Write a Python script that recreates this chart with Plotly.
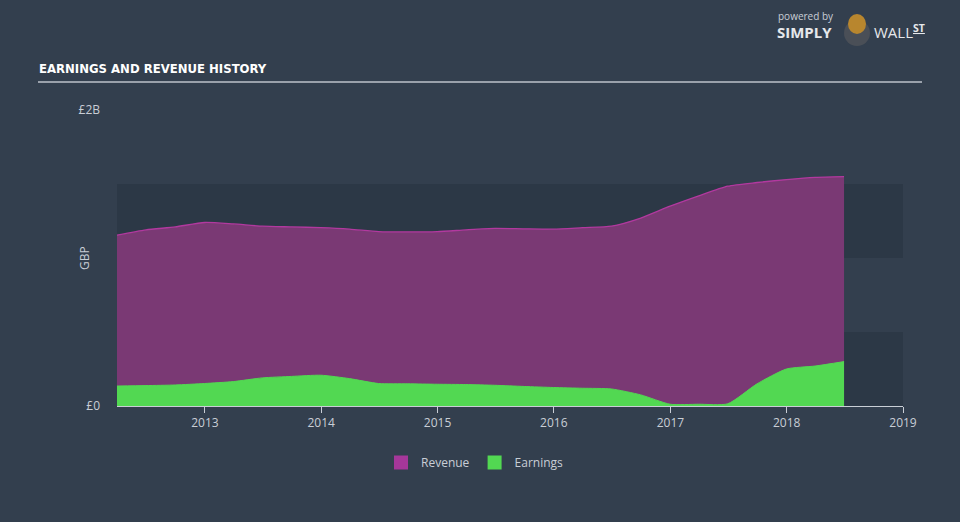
import plotly.graph_objects as go

dates = ["2012-03-31", "2012-06-30", "2012-09-30", "2012-12-31",
         "2013-03-31", "2013-06-30", "2013-09-30", "2013-12-31",
         "2014-03-31", "2014-06-30", "2014-09-30", "2014-12-31",
         "2015-03-31", "2015-06-30", "2015-09-30", "2015-12-31",
         "2016-03-31", "2016-06-30", "2016-09-30", "2016-12-31",
         "2017-03-31", "2017-06-30", "2017-09-30", "2017-12-31",
         "2018-03-31", "2018-06-30"]
revenue = [1.155, 1.19, 1.21, 1.24,
           1.23, 1.215, 1.21, 1.205,
           1.195, 1.178, 1.176, 1.178,
           1.19, 1.20, 1.197, 1.195,
           1.205, 1.215, 1.27, 1.35,
           1.42, 1.485, 1.51, 1.53,
           1.545, 1.55]
earnings = [0.135, 0.138, 0.142, 0.152,
            0.165, 0.19, 0.20, 0.208,
            0.185, 0.152, 0.15, 0.147,
            0.145, 0.14, 0.132, 0.125,
            0.12, 0.115, 0.075, 0.012,
            0.012, 0.015, 0.15, 0.25,
            0.27, 0.30]
revenue = [v * 1e9 for v in revenue]
earnings = [v * 1e9 for v in earnings]
bands = [(0, 0.5e9), (1.0e9, 1.5e9)]
ytick_vals = [0, 2e9]
ytick_text = ["£0", "£2B"]
xtick_vals = ["2013-01-01", "2014-01-01", "2015-01-01", "2016-01-01",
              "2017-01-01", "2018-01-01", "2019-01-01"]
xtick_text = ["2013", "2014", "2015", "2016", "2017", "2018", "2019"]

BG = "#333f4e"
BAND = "#2c3846"
TXT = "#c9ced6"
REV_FILL = "#7a3974"
REV_LINE = "#b2399f"
EARN = "#52d852"

L, R, T, B = 117, 57, 110, 116
PW, PH = 960 - L - R, 522 - T - B


def px(x):
    return (x - L) / PW


def py(y):
    return (522 - B - y) / PH


fig = go.Figure()
fig.add_trace(go.Scatter(
    x=dates, y=revenue, name="Revenue", mode="lines", showlegend=False,
    line=dict(color=REV_LINE, width=1.3, shape="spline", smoothing=0.6),
    fill="tozeroy", fillcolor=REV_FILL))
fig.add_trace(go.Scatter(
    x=dates, y=earnings, name="Earnings", mode="lines", showlegend=False,
    line=dict(color=EARN, width=1, shape="spline", smoothing=0.6),
    fill="tozeroy", fillcolor=EARN))
# legend entries (square swatches)
fig.add_trace(go.Scatter(x=[None], y=[None], name="Revenue", mode="markers",
                         marker=dict(symbol="square", size=14, color="#a5379a")))
fig.add_trace(go.Scatter(x=[None], y=[None], name="Earnings", mode="markers",
                         marker=dict(symbol="square", size=14, color=EARN)))

shapes = []
for lo, hi in bands:
    shapes.append(dict(type="rect", xref="paper", yref="y", x0=0, x1=1,
                       y0=lo, y1=hi, fillcolor=BAND, line=dict(width=0),
                       layer="below"))
# title underline
shapes.append(dict(type="line", xref="paper", yref="paper",
                   x0=px(38), x1=px(922), y0=py(82), y1=py(82),
                   line=dict(color="#9aa1ab", width=2)))
# logo badge
shapes.append(dict(type="circle", xref="paper", yref="paper",
                   x0=px(844), x1=px(870), y0=py(46), y1=py(20),
                   fillcolor="#4a4f57", line=dict(width=0)))
shapes.append(dict(type="circle", xref="paper", yref="paper",
                   x0=px(848), x1=px(866), y0=py(34), y1=py(14),
                   fillcolor="#b8862e", line=dict(width=0)))

annotations = [
    dict(text="<b>EARNINGS AND REVENUE HISTORY</b>", xref="paper", yref="paper",
         x=px(37), y=py(68), xanchor="left", yanchor="middle", showarrow=False,
         font=dict(family="DejaVu Sans Condensed, Liberation Sans Narrow, Arial Narrow",
                   size=13, color="#ffffff")),
    dict(text="powered by", xref="paper", yref="paper",
         x=px(776), y=py(16), xanchor="left", yanchor="middle",
         showarrow=False, font=dict(family="Open Sans", size=10, color="#c9ced6")),
    dict(text="<b>SIMPLY</b>", xref="paper", yref="paper",
         x=px(775), y=py(32), xanchor="left", yanchor="middle",
         showarrow=False, font=dict(family="Open Sans", size=15, color="#e6e8eb")),
    dict(text="WALL<b><sup><u>ST</u></sup></b>", xref="paper", yref="paper",
         x=px(872), y=py(32), xanchor="left", yanchor="middle",
         showarrow=False, font=dict(family="Open Sans", size=15, color="#e6e8eb")),
    dict(text="GBP", xref="paper", yref="paper", textangle=-90,
         x=px(84), y=py(258), xanchor="center", yanchor="middle",
         showarrow=False, font=dict(size=12, color=TXT)),
]

fig.update_layout(
    width=960, height=522,
    paper_bgcolor=BG, plot_bgcolor=BG,
    margin=dict(l=L, r=R, t=T, b=B),
    font=dict(family="Open Sans", color=TXT, size=12),
    showlegend=True,
    legend=dict(orientation="h", x=px(381), y=py(448),
                xanchor="left", yanchor="top", bgcolor="rgba(0,0,0,0)",
                font=dict(size=12, color=TXT), traceorder="normal",
                itemwidth=30, tracegroupgap=0),
    shapes=shapes, annotations=annotations,
    xaxis=dict(type="date", range=["2012-03-31", "2019-01-01"],
               tickvals=xtick_vals, ticktext=xtick_text,
               showgrid=False, zeroline=False, showline=True,
               linecolor="#c9ced6", linewidth=1,
               ticks="outside", ticklen=6, tickcolor="#c9ced6",
               tickfont=dict(size=12, color=TXT)),
    yaxis=dict(range=[0, 2e9], tickvals=ytick_vals, ticktext=ytick_text,
               showgrid=False, zeroline=False, showline=False,
               ticks="", ticklabelstandoff=16,
               tickfont=dict(size=12, color=TXT)),
)

fig.write_html("out.html")
